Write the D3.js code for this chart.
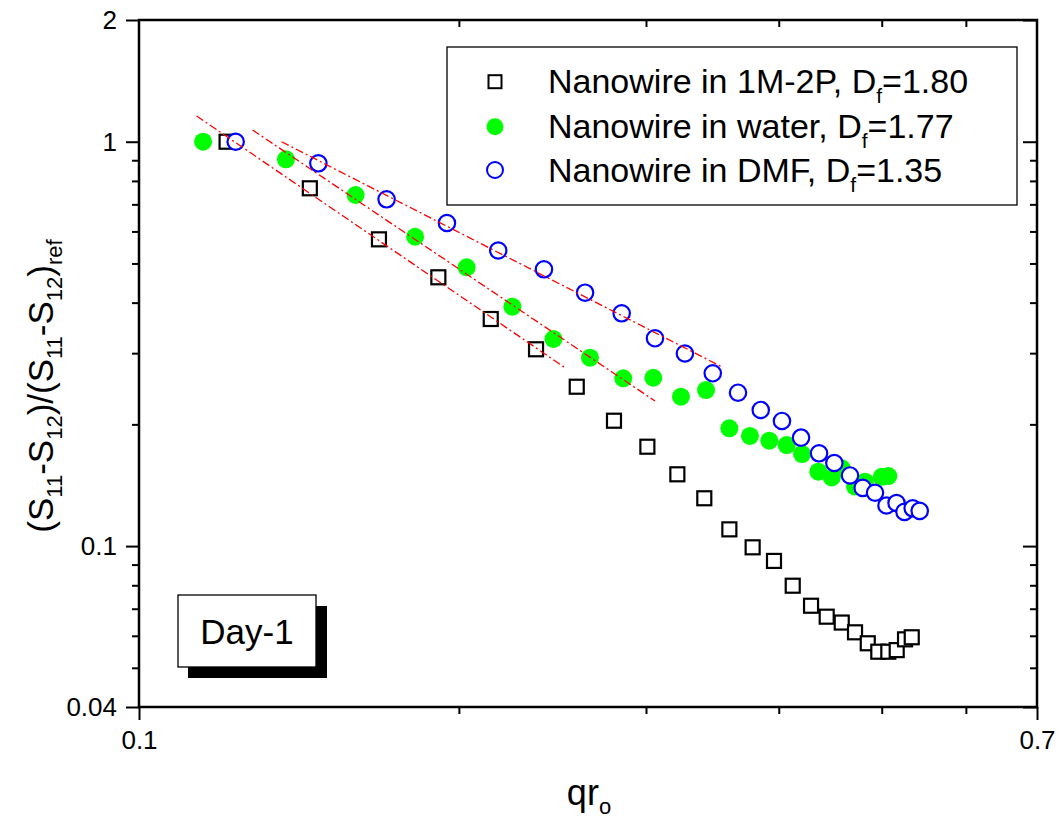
<!DOCTYPE html>
<html><head><meta charset="utf-8">
<script src="https://cdn.jsdelivr.net/npm/d3@7"></script>
<style>
body{margin:0;background:#fff}
svg{display:block}
text{font-family:Arial,"Liberation Sans",Helvetica,sans-serif;fill:#000}
</style>
</head><body>
<svg id="chart" width="1063" height="821"></svg>
<script>
// ---- data ----
const xTickMajor = [0.1, 0.7];
const xTickMinor = [0.2, 0.3, 0.4, 0.5, 0.6];
const yTickMajor = [0.04, 0.1, 1, 2];
const yTickMinor = [0.05, 0.06, 0.07, 0.08, 0.09, 0.2, 0.3, 0.4, 0.5, 0.6, 0.7, 0.8, 0.9];

const seriesLabels = ["Nanowire in 1M-2P, D", "Nanowire in water, D", "Nanowire in DMF, D"];
const seriesDf = ["=1.80", "=1.77", "=1.35"];

const qr1M2P = [0.1209,0.1448,0.1682,0.1913,0.2143,0.2364,0.2582,0.2799,0.3009,0.3211,0.3404,0.3594,0.3780,0.3959,0.4123,0.4290,0.4438,0.4585,0.4719,0.4851,0.4963,0.5072,0.5165,0.5259,0.5336];
const s1M2P  = [1.000,0.7671,0.5736,0.4621,0.3644,0.3067,0.2478,0.2042,0.1761,0.1505,0.1313,0.1100,0.0993,0.0919,0.0798,0.0712,0.0669,0.0647,0.0612,0.0575,0.0548,0.0548,0.0553,0.0588,0.0595];

const qrWater = [0.1149,0.1375,0.1599,0.1819,0.2034,0.2246,0.2455,0.2657,0.2856,0.3048,0.3236,0.3417,0.3594,0.3758,0.3919,0.4069,0.4207,0.4358,0.4487,0.4585,0.4719,0.4822,0.5000,0.5072];
const sWater  = [1.000,0.9046,0.7383,0.5821,0.4891,0.3908,0.3252,0.2923,0.2599,0.2608,0.2341,0.2432,0.1956,0.1872,0.1822,0.1778,0.1689,0.1528,0.1478,0.1557,0.1403,0.1443,0.1484,0.1490];

const qrDMF = [0.1233,0.1475,0.1710,0.1949,0.2178,0.2405,0.2629,0.2846,0.3059,0.3264,0.3467,0.3662,0.3847,0.4028,0.4198,0.4365,0.4512,0.4668,0.4798,0.4928,0.5052,0.5163,0.5253,0.5347,0.5429];
const sDMF  = [1.000,0.8843,0.7204,0.6295,0.5382,0.4836,0.4233,0.3764,0.3265,0.2994,0.2675,0.2395,0.2171,0.2039,0.1854,0.1696,0.1605,0.1495,0.1393,0.1355,0.1260,0.1278,0.1215,0.1240,0.1222];

// power-law fit lines: end points [x0, x1], [y0, y1]
const fit1M2PX = [0.1133, 0.2517], fit1M2PY = [1.158, 0.2762];
const fitWaterX = [0.1279, 0.3059], fitWaterY = [1.069, 0.2285];
const fitDMFX = [0.1362, 0.3535], fitDMFY = [1.000, 0.2777];

const dayLabel = "Day-1";

// ---- layout ----
const L = 139, R = 1037, T = 20, B = 707;
const svg = d3.select("#chart");
const x = d3.scaleLog().domain([0.1, 0.7]).range([L, R]);
const y = d3.scaleLog().domain([0.04, 2]).range([B, T]);

const fmt = d => String(d);

function styleAxis(g) {
  g.select(".domain").remove();
  g.selectAll(".tick line").attr("stroke", "#000").attr("stroke-width", 2);
  g.selectAll(".tick text").style("font-size", "26px").style("font-family", "Arial, 'Liberation Sans', sans-serif").attr("fill", "#000");
}

// left axis
svg.append("g").attr("transform", `translate(${L},0)`)
  .call(d3.axisLeft(y).tickValues(yTickMajor).tickSize(13).tickPadding(9).tickFormat(fmt)).call(styleAxis);
svg.append("g").attr("transform", `translate(${L},0)`)
  .call(d3.axisLeft(y).tickValues(yTickMinor).tickSize(7).tickFormat("")).call(styleAxis);
// right axis (inward)
svg.append("g").attr("transform", `translate(${R},0)`)
  .call(d3.axisRight(y).tickValues(yTickMajor).tickSize(-14).tickFormat("")).call(styleAxis);
svg.append("g").attr("transform", `translate(${R},0)`)
  .call(d3.axisRight(y).tickValues(yTickMinor).tickSize(-7).tickFormat("")).call(styleAxis);
// bottom axis
svg.append("g").attr("transform", `translate(0,${B})`)
  .call(d3.axisBottom(x).tickValues(xTickMajor).tickSize(13).tickPadding(11).tickFormat(fmt)).call(styleAxis);
svg.append("g").attr("transform", `translate(0,${B})`)
  .call(d3.axisBottom(x).tickValues(xTickMinor).tickSize(7).tickFormat("")).call(styleAxis);
// top axis (inward)
svg.append("g").attr("transform", `translate(0,${T})`)
  .call(d3.axisTop(x).tickValues(xTickMinor).tickSize(-7).tickFormat("")).call(styleAxis);

// frame
svg.append("rect").attr("x", L).attr("y", T).attr("width", R - L).attr("height", B - T)
  .attr("fill", "none").attr("stroke", "#000").attr("stroke-width", 2.5);

// ---- markers ----
const plot = svg.append("g");
const sq = 14;
plot.selectAll("rect.s1").data(d3.zip(qr1M2P, s1M2P)).join("rect").attr("class", "s1")
  .attr("x", d => x(d[0]) - sq / 2).attr("y", d => y(d[1]) - sq / 2)
  .attr("width", sq).attr("height", sq)
  .attr("fill", "#fff").attr("stroke", "#000").attr("stroke-width", 2.2);
plot.selectAll("circle.s2").data(d3.zip(qrWater, sWater)).join("circle").attr("class", "s2")
  .attr("cx", d => x(d[0])).attr("cy", d => y(d[1])).attr("r", 9)
  .attr("fill", "#00ff00");
plot.selectAll("circle.s3").data(d3.zip(qrDMF, sDMF)).join("circle").attr("class", "s3")
  .attr("cx", d => x(d[0])).attr("cy", d => y(d[1])).attr("r", 8.2)
  .attr("fill", "#fff").attr("stroke", "#0000ff").attr("stroke-width", 2.2);

// ---- fit lines ----
[[fit1M2PX, fit1M2PY], [fitWaterX, fitWaterY], [fitDMFX, fitDMFY]].forEach(([fx, fy]) => {
  svg.append("line")
    .attr("x1", x(fx[0])).attr("y1", y(fy[0]))
    .attr("x2", x(fx[1])).attr("y2", y(fy[1]))
    .attr("stroke", "#ff0000").attr("stroke-width", 1.3)
    .attr("stroke-dasharray", "8,3,2,3");
});

// ---- legend ----
const lg = svg.append("g");
lg.append("rect").attr("x", 447).attr("y", 47).attr("width", 570).attr("height", 158)
  .attr("fill", "#fff").attr("stroke", "#000").attr("stroke-width", 1.3);
const legY = [81.7, 126.7, 170];
const legBase = [93, 137.5, 182];
const mx = 495;
lg.append("rect").attr("x", mx - 6.5).attr("y", legY[0] - 6.5).attr("width", 13).attr("height", 13)
  .attr("fill", "#fff").attr("stroke", "#000").attr("stroke-width", 2);
lg.append("circle").attr("cx", mx).attr("cy", legY[1]).attr("r", 8.5).attr("fill", "#00ff00");
lg.append("circle").attr("cx", mx).attr("cy", legY[2]).attr("r", 8).attr("fill", "#fff")
  .attr("stroke", "#0000ff").attr("stroke-width", 2);
seriesLabels.forEach((s, i) => {
  const t = lg.append("text").attr("x", 548).attr("y", legBase[i]).style("font-size", "34px");
  t.append("tspan").text(s);
  t.append("tspan").attr("dy", 10).style("font-size", "21px").text("f");
  t.append("tspan").attr("dy", -10).text(seriesDf[i]);
});

// ---- Day-1 box ----
svg.append("rect").attr("x", 188).attr("y", 606).attr("width", 139).attr("height", 72).attr("fill", "#000");
svg.append("rect").attr("x", 178).attr("y", 595).attr("width", 138).attr("height", 72)
  .attr("fill", "#fff").attr("stroke", "#000").attr("stroke-width", 1.3);
svg.append("text").attr("x", 247).attr("y", 644).attr("text-anchor", "middle")
  .style("font-size", "35px").text(dayLabel);

// ---- axis titles ----
function richText(g, parts, size, subSize, shift) {
  let cur = 0;
  parts.forEach(([s, sub]) => {
    const target = sub ? shift : 0;
    g.append("tspan").attr("dy", target - cur).style("font-size", (sub ? subSize : size) + "px").text(s);
    cur = target;
  });
}
const xt = svg.append("text").attr("x", 589).attr("y", 805).attr("text-anchor", "middle").style("font-size", "36px");
richText(xt, [["qr", 0], ["o", 1]], 36, 22, 9);

const yt = svg.append("text").attr("transform", "translate(53,386) rotate(-90)").attr("text-anchor", "middle").style("font-size", "35px");
richText(yt, [["(S", 0], ["11", 1], ["-S", 0], ["12", 1], [")/(S", 0], ["11", 1], ["-S", 0], ["12", 1], [")", 0], ["ref", 1]], 35, 22, 9);
</script>
</body></html>
